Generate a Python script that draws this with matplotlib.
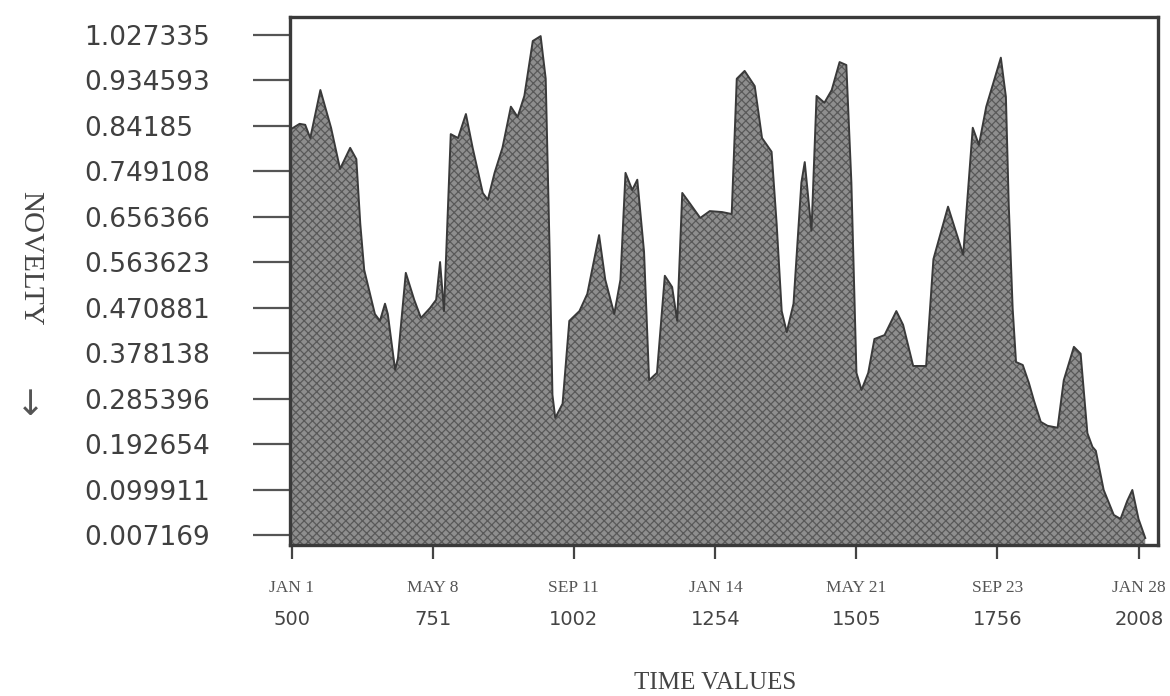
import numpy as np
import matplotlib
matplotlib.use('Agg')
import matplotlib.pyplot as plt
from matplotlib.transforms import blended_transform_factory


# time axis (days) and novelty
time_values = [497, 514, 524, 533, 551, 570, 586, 604, 615, 622,
               629, 648, 657, 666, 671, 684, 689, 703, 718, 730,
               746, 757, 764, 771, 783, 796, 810, 822, 840, 849,
               861, 875, 890, 902, 914, 929, 943, 952, 959, 964,
               969, 982, 994, 1012, 1026, 1047, 1058, 1074, 1085, 1094,
               1106, 1115, 1127, 1136, 1150, 1164, 1177, 1186, 1195, 1209,
               1227, 1244, 1266, 1283, 1292, 1306, 1324, 1337, 1354, 1363,
               1372, 1381, 1393, 1407, 1413, 1425, 1434, 1448, 1461, 1475,
               1487, 1496, 1505, 1514, 1526, 1537, 1555, 1576, 1588, 1606,
               1629, 1642, 1668, 1695, 1712, 1723, 1736, 1762, 1771, 1776,
               1783, 1789, 1801, 1812, 1821, 1833, 1845, 1863, 1874, 1892,
               1904, 1916, 1925, 1931, 1945, 1963, 1975, 1987, 1996, 2007,
               2019]

novelty = [.834, .846, .844, .817, .915, .838, .754, .797, .774, .642,
           .548, .458, .444, .479, .458, .344, .368, .542, .487, .450,
           .470, .487, .564, .464, .825, .817, .866, .797, .705, .691,
           .746, .797, .881, .860, .903, 1.015, 1.025, .938, .585, .293,
           .246, .275, .444, .464, .499, .619, .528, .458, .528, .746,
           .711, .732, .585, .323, .338, .536, .513, .444, .705, .683,
           .654, .668, .666, .662, .938, .954, .923, .817, .789, .642,
           .464, .421, .479, .726, .768, .628, .903, .889, .915, .972,
           .966, .726, .338, .303, .338, .407, .415, .464, .436, .352,
           .352, .570, .677, .579, .838, .803, .881, .981, .901, .683,
           .470, .360, .354, .317, .281, .238, .230, .226, .323, .391,
           .377, .215, .187, .179, .099, .048, .040, .077, .099, .040,
           .001]

y_ticks = [0.007169, 0.099911, 0.192654, 0.285396, 0.378138, 0.470881,
           0.563623, 0.656366, 0.749108, 0.84185, 0.934593, 1.027335]
y_labels = ['0.007169', '0.099911', '0.192654', '0.285396', '0.378138', '0.470881',
            '0.563623', '0.656366', '0.749108', '0.84185', '0.934593', '1.027335']

x_ticks = [500, 751, 1002, 1254, 1505, 1756, 2008]
x_dates = ['JAN 1', 'MAY 8', 'SEP 11', 'JAN 14', 'MAY 21', 'SEP 23', 'JAN 28']
x_labels = ['500', '751', '1002', '1254', '1505', '1756', '2008']

ink = '#3a3a3a'
fill_gray = '#8e8e8e'
hatch_gray = '#595959'

plt.rcParams['hatch.linewidth'] = 0.9

fig = plt.figure(figsize=(11.7, 6.96), dpi=100)
ax = fig.add_axes([0.2479, 0.217, 0.742, 0.7586])

ax.set_xlim(497, 2042)
ax.set_ylim(-0.0132, 1.064)

ax.fill_between(time_values, novelty, ax.get_ylim()[0], facecolor=fill_gray,
                edgecolor=hatch_gray, hatch='xxxx', linewidth=0)
ax.plot(time_values, novelty, color=ink, lw=1.4)

for s in ax.spines.values():
    s.set_color(ink)
    s.set_linewidth(2.4)

# y axis: long ticks, left aligned labels
ax.set_yticks(y_ticks)
ax.set_yticklabels(y_labels, fontsize=19, color='#404040', ha='left',
                   family='DejaVu Sans')
ax.tick_params(axis='y', direction='out', length=27, width=1.6, color='#555555',
               pad=121)

# x axis: numbers below, dates in small serif caps above them
ax.set_xticks(x_ticks)
ax.set_xticklabels(x_labels, fontsize=14, color='#444444', family='DejaVu Sans')
ax.tick_params(axis='x', direction='out', length=10, width=1.6, color='#444444',
               pad=37)

trans = blended_transform_factory(ax.transData, ax.transAxes)
for x, d in zip(x_ticks, x_dates):
    ax.text(x, -0.082, d, transform=trans, ha='center', va='center',
            fontsize=12.5, color='#555555', family='Liberation Serif')

fig.text(0.611, 0.019, 'TIME VALUES', ha='center', va='center', fontsize=18,
         color='#444444', family='Liberation Serif')
fig.text(0.026, 0.629, 'NOVELTY', rotation=-90, ha='center', va='center',
         fontsize=21, color='#444444', family='Liberation Serif')
fig.text(0.026, 0.418, '\u2193', ha='center', va='center', fontsize=25,
         color='#555555', family='DejaVu Sans')

fig.savefig('out.png', dpi=100)
